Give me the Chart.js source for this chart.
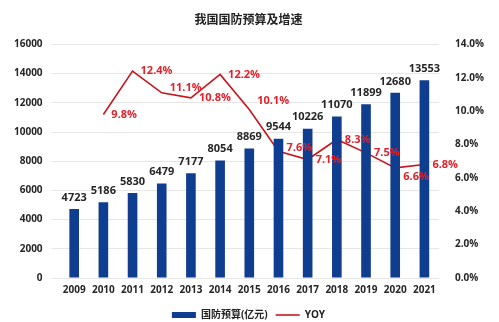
<!DOCTYPE html>
<html><head><meta charset="utf-8">
<script src="https://cdn.jsdelivr.net/npm/chart.js@4/dist/chart.umd.min.js"></script>
<style>html,body{margin:0;padding:0;background:#fff;}#wrap{width:499px;height:322px;}</style>
</head><body><div id="wrap"><canvas id="c" width="499" height="322"></canvas></div>
<script>
const years = ['2009','2010','2011','2012','2013','2014','2015','2016','2017','2018','2019','2020','2021'];
const budget = [4723,5186,5830,6479,7177,8054,8869,9544,10226,11070,11899,12680,13553];
const yoy = [null,9.8,12.4,11.1,10.8,12.2,10.1,7.6,7.1,8.3,7.5,6.6,6.8];
const leftTicks = [0,2000,4000,6000,8000,10000,12000,14000,16000];
const rightTicks = [0,2,4,6,8,10,12,14];
const labelDy = [0,0,0,-5,0,0,-9,-3,0,0,0,9,0];

const FONT = "'Open Sans','Noto Sans CJK SC',sans-serif";
const labelPlugin = {
  id:'labels',
  afterDatasetsDraw(chart){
    const ctx = chart.ctx;
    ctx.save();
    ctx.font = "bold 11px " + FONT;
    const m0 = chart.getDatasetMeta(0);
    ctx.fillStyle = '#262626';
    ctx.textAlign='center'; ctx.textBaseline='bottom';
    m0.data.forEach((b,i)=>{ ctx.fillText(String(budget[i]), b.x, b.y-6); });
    const m1 = chart.getDatasetMeta(1);
    ctx.fillStyle = '#e0202a';
    ctx.textAlign='left'; ctx.textBaseline='middle';
    m1.data.forEach((p,i)=>{ if(yoy[i]==null) return; ctx.fillText(yoy[i].toFixed(1)+'%', p.x+8, p.y+labelDy[i]); });
    ctx.restore();
  }
};

new Chart(document.getElementById('c'),{
  data:{
    labels: years,
    datasets:[
      {type:'bar', label:'国防预算(亿元)', data: budget, backgroundColor:'#0f3d8f', yAxisID:'y', barPercentage:0.33, categoryPercentage:1, pointStyle:'rect'},
      {type:'line', label:'YOY', data: yoy, borderColor:'#c8161d', backgroundColor:'#c8161d', borderWidth:1.6, pointRadius:0, tension:0, yAxisID:'y1', pointStyle:'line'}
    ]
  },
  options:{
    responsive:false, animation:false,
    layout:{padding:{left:5,right:7,top:4,bottom:-8}},
    plugins:{
      title:{display:true, text:'我国国防预算及增速', color:'#222', font:{family:"'Noto Sans CJK SC',sans-serif", size:12, weight:'bold'}, padding:{top:8,bottom:18}},
      legend:{position:'bottom', labels:{usePointStyle:true, pointStyleWidth:24, boxHeight:6, color:'#222', font:{family:FONT, size:10, weight:'bold'}, padding:8}},
      tooltip:{enabled:false}
    },
    scales:{
      x:{grid:{display:false}, border:{display:false}, afterFit(s){s.height += 8;}, ticks:{color:'#262626', font:{family:FONT,size:10,weight:'bold'}, maxRotation:0, autoSkip:false, padding:-2}},
      y:{position:'left', min:0, max:16000, afterBuildTicks(a){a.ticks=leftTicks.map(v=>({value:v}));}, grid:{color:'#e6e6e6'}, border:{display:false}, ticks:{color:'#262626', font:{family:FONT,size:10,weight:'bold'}, padding:9, callback:v=>String(v)}},
      y1:{position:'right', min:0, max:14, afterBuildTicks(a){a.ticks=rightTicks.map(v=>({value:v}));}, grid:{display:false}, border:{display:false}, ticks:{color:'#262626', font:{family:FONT,size:10,weight:'bold'}, padding:8, callback:v=>Number(v).toFixed(1)+'%'}}
    }
  },
  plugins:[labelPlugin]
});
</script></body></html>
